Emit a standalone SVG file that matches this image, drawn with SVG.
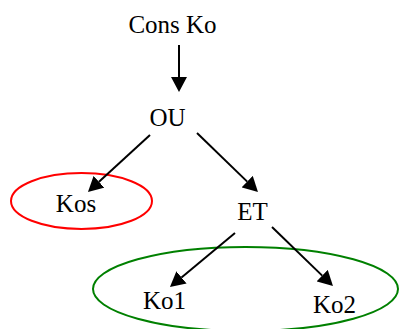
<svg xmlns="http://www.w3.org/2000/svg" width="399" height="329" viewBox="0 0 399 329">
<style>
text{font-family:"Liberation Serif","Times New Roman",serif;font-size:25px;fill:#000;text-anchor:middle}
.edge{stroke:#000;stroke-width:2;fill:none}
.ell{fill:none;stroke-width:2}
</style>
<defs>
<marker id="ah" viewBox="0 0 15 16" refX="0" refY="8" markerWidth="15" markerHeight="16" markerUnits="userSpaceOnUse" orient="auto">
<path d="M0,0 L15,8 L0,16 z" fill="#000"/>
</marker>
</defs>
<rect width="399" height="329" fill="#fff"/>
<g id="groups">
<ellipse id="grp-kos" class="ell" cx="81.5" cy="201" rx="70.5" ry="28" stroke="#ff0000"/>
<ellipse id="grp-ko" class="ell" cx="245.5" cy="289" rx="152.5" ry="42" stroke="#008000"/>
</g>
<g id="connectors">
<line class="edge" x1="179" y1="45" x2="179" y2="77" marker-end="url(#ah)"/>
<line class="edge" x1="150" y1="135" x2="99" y2="181.8" marker-end="url(#ah)"/>
<line class="edge" x1="197" y1="133" x2="247.2" y2="181.6" marker-end="url(#ah)"/>
<line class="edge" x1="235" y1="233" x2="181.5" y2="277.4" marker-end="url(#ah)"/>
<line class="edge" x1="272" y1="227" x2="322.2" y2="275.6" marker-end="url(#ah)"/>
</g>
<g id="n-cons"><text x="172.5" y="33">Cons Ko</text></g>
<g id="n-ou"><text x="167.5" y="126">OU</text></g>
<g id="n-kos"><text x="76" y="212">Kos</text></g>
<g id="n-et"><text x="252.5" y="220">ET</text></g>
<g id="n-ko1"><text x="164.5" y="309">Ko1</text></g>
<g id="n-ko2"><text x="334.5" y="313">Ko2</text></g>
</svg>
